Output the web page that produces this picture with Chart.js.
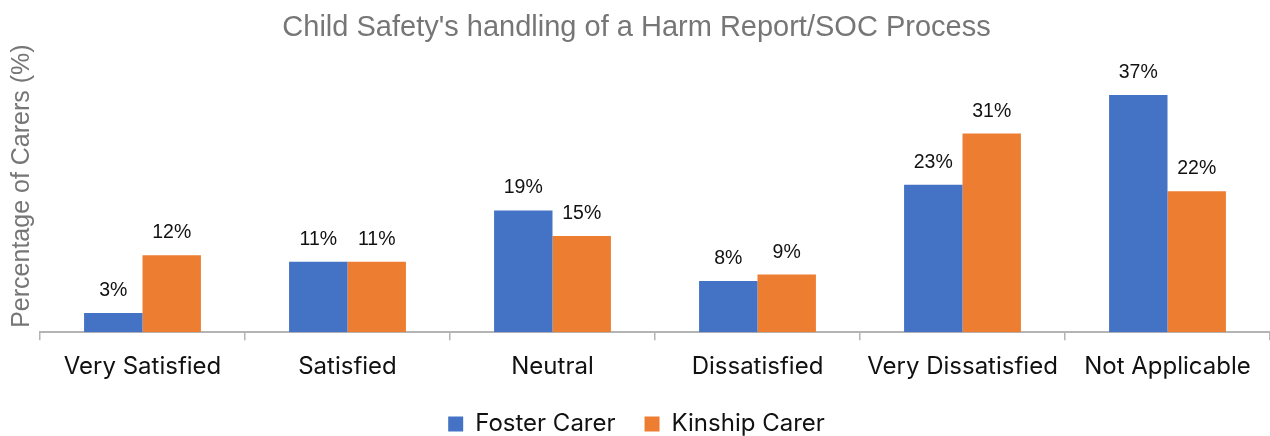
<!DOCTYPE html>
<html>
<head>
<meta charset="utf-8">
<script src="https://cdn.jsdelivr.net/npm/chart.js@4"></script>
<style>
  html, body { margin: 0; padding: 0; background: #ffffff; overflow: hidden; }
  #wrap { width: 1270px; height: 436px; }
</style>
</head>
<body>
<div id="wrap"><canvas id="chart" width="1270" height="436"></canvas></div>
<script>
// Survey responses: share of carers per satisfaction level
const categories = ['Very Satisfied', 'Satisfied', 'Neutral', 'Dissatisfied', 'Very Dissatisfied', 'Not Applicable'];
const fosterCarer = [3, 11, 19, 8, 23, 37];
const kinshipCarer = [12, 11, 15, 9, 31, 22];
const seriesNames = ['Foster Carer', 'Kinship Carer'];

const BLUE = '#4472C4';
const ORANGE = '#ED7D31';
const GREY_TEXT = '#767676';
const AXIS_GREY = '#B4B4B4';
const SANS = '"Liberation Sans", Arial, sans-serif';
const LABEL_FONT = 'Inter, "Noto Sans", sans-serif';

// Writes the percentage above each bar
const valueLabels = {
  id: 'valueLabels',
  afterDatasetsDraw(chart) {
    const ctx = chart.ctx;
    ctx.save();
    ctx.font = '19.5px ' + SANS;
    ctx.fillStyle = '#111111';
    ctx.textAlign = 'center';
    ctx.textBaseline = 'alphabetic';
    chart.data.datasets.forEach((ds, i) => {
      const meta = chart.getDatasetMeta(i);
      meta.data.forEach((bar, j) => {
        ctx.fillText(Math.round(ds.data[j]) + '%', bar.x, bar.y - 17);
      });
    });
    ctx.restore();
  }
};

new Chart(document.getElementById('chart'), {
  type: 'bar',
  data: {
    labels: categories,
    datasets: [
      { label: seriesNames[0], data: fosterCarer, backgroundColor: BLUE, borderWidth: 0 },
      { label: seriesNames[1], data: kinshipCarer, backgroundColor: ORANGE, borderWidth: 0 }
    ]
  },
  options: {
    responsive: false,
    animation: false,
    devicePixelRatio: 1,
    layout: { padding: { left: 3, right: 0, top: 0, bottom: -10 } },
    datasets: {
      bar: { barPercentage: 1.0, categoryPercentage: 0.57 }
    },
    plugins: {
      title: {
        display: true,
        text: "Child Safety's handling of a Harm Report/SOC Process",
        color: GREY_TEXT,
        font: { family: SANS, size: 29, weight: 'normal', lineHeight: 1.0 },
        padding: { top: 13, bottom: -2 }
      },
      legend: {
        position: 'bottom',
        labels: {
          color: '#111111',
          font: { family: LABEL_FONT, size: 24 },
          boxWidth: 15,
          boxHeight: 15,
          padding: 29
        }
      },
      tooltip: { enabled: false }
    },
    scales: {
      x: {
        // let the legend sit a little closer to the category labels
        afterFit(scale) { scale.height -= 10; },
        grid: {
          display: true,
          drawOnChartArea: false,
          drawTicks: true,
          tickLength: 8,
          color: AXIS_GREY,
          lineWidth: 1.5,
          offset: true
        },
        border: { display: true, color: AXIS_GREY, width: 2 },
        ticks: {
          color: '#111111',
          font: { family: LABEL_FONT, size: 24 },
          padding: 12,
          maxRotation: 0,
          autoSkip: false
        }
      },
      y: {
        min: 0,
        max: 45.6,
        grid: { display: false, drawTicks: false },
        border: { display: false },
        ticks: { display: false },
        title: {
          display: true,
          text: 'Percentage of Carers (%)',
          color: GREY_TEXT,
          font: { family: SANS, size: 25 },
          padding: { top: 4, bottom: 3 }
        }
      }
    }
  },
  plugins: [valueLabels]
});
</script>
</body>
</html>
